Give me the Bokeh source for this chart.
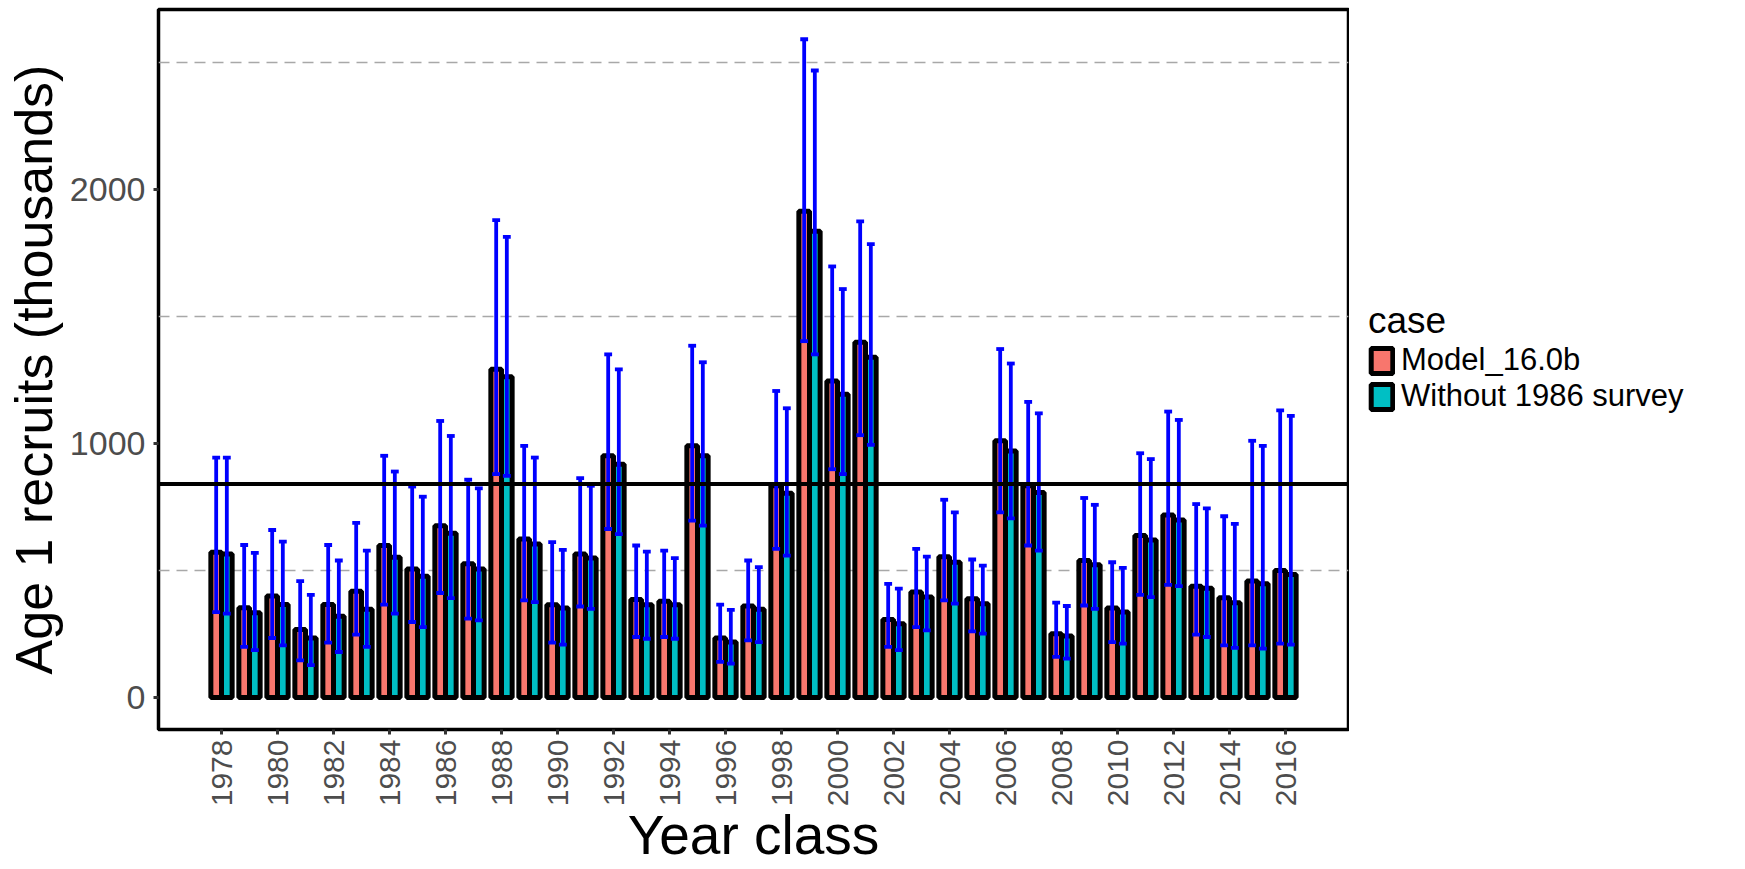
import math
from bokeh.plotting import figure
from bokeh.layouts import row
from bokeh.models import ColumnDataSource, Range1d, FixedTicker, Span, Legend, LegendItem
from bokeh.transform import dodge
from bokeh.embed import file_html
from bokeh.resources import INLINE

# ---------------- data ----------------
years = list(range(1978, 2017))

model_val = [571, 353, 399, 267, 366, 418, 598, 506, 676, 526,
             1291, 624, 365, 565, 951, 386, 379, 990, 234, 360,
             833, 1913, 1245, 1398, 307, 415, 554, 388, 1010, 833,
             251, 539, 352, 637, 718, 438, 392, 458, 500]
model_lo = [336, 199, 234, 146, 216, 247, 365, 297, 411, 310,
            879, 382, 216, 358, 663, 238, 238, 696, 140, 225,
            585, 1402, 898, 1032, 199, 277, 382, 260, 728, 598,
            160, 362, 218, 404, 443, 247, 205, 205, 212]
model_hi = [944, 600, 659, 458, 600, 687, 951, 830, 1088, 857,
            1878, 990, 611, 863, 1350, 598, 578, 1384, 365, 539,
            1206, 2590, 1696, 1873, 447, 585, 778, 543, 1371, 1163,
            373, 785, 532, 961, 1125, 761, 713, 1010, 1130]

nosurv_val = [565, 333, 366, 234, 320, 347, 552, 477, 646, 506,
              1262, 604, 352, 549, 918, 365, 365, 951, 218, 347,
              804, 1834, 1193, 1339, 290, 395, 532, 369, 970, 807,
              242, 522, 336, 620, 698, 430, 373, 447, 484]
nosurv_lo = [330, 186, 205, 127, 179, 199, 330, 277, 391, 303,
             872, 375, 208, 349, 643, 231, 231, 676, 133, 218,
             558, 1350, 879, 994, 186, 264, 369, 251, 705, 578,
             153, 349, 212, 395, 438, 238, 195, 192, 208]
nosurv_hi = [944, 569, 613, 404, 539, 578, 889, 790, 1029, 823,
             1812, 944, 581, 833, 1291, 574, 548, 1319, 345, 513,
             1138, 2467, 1607, 1784, 428, 554, 728, 519, 1314, 1118,
             360, 758, 510, 938, 1092, 744, 683, 990, 1108]

x_ticks = [1978, 1980, 1982, 1984, 1986, 1988, 1990, 1992, 1994, 1996,
           1998, 2000, 2002, 2004, 2006, 2008, 2010, 2012, 2014, 2016]
y_ticks = [0, 1000, 2000]
grid_levels = [500, 1500, 2500]
reference_level = 840

case_labels = ["Model_16.0b", "Without 1986 survey"]
case_colors = ["#F8766D", "#00BFC4"]

# ---------------- main figure ----------------
src = ColumnDataSource(dict(year=years,
                            mv=model_val, ml=model_lo, mh=model_hi,
                            tv=nosurv_val, tl=nosurv_lo, th=nosurv_hi))

FONT = "Liberation Sans"

p = figure(width=1349, height=869,
           x_range=Range1d(1975.75, 2018.25), y_range=Range1d(-126, 2707),
           output_backend="svg", toolbar_location=None,
           min_border_left=158, min_border_right=1,
           min_border_top=9, min_border_bottom=138,
           background_fill_color="white", border_fill_color="white")

off = 0.19
bw = 0.38
cap = 0.14
bar_line = 5

p.vbar(x=dodge("year", -off, range=p.x_range), top="mv", bottom=0, width=bw,
       fill_color=case_colors[0], line_color="black", line_width=bar_line, source=src)
p.vbar(x=dodge("year", off, range=p.x_range), top="tv", bottom=0, width=bw,
       fill_color=case_colors[1], line_color="black", line_width=bar_line, source=src)

for o, lo, hi in [(-off, "ml", "mh"), (off, "tl", "th")]:
    p.segment(x0=dodge("year", o, range=p.x_range), x1=dodge("year", o, range=p.x_range),
              y0=lo, y1=hi, line_color="blue", line_width=3.8, source=src)
    for yk in (lo, hi):
        p.segment(x0=dodge("year", o - cap, range=p.x_range), x1=dodge("year", o + cap, range=p.x_range),
                  y0=yk, y1=yk, line_color="blue", line_width=3.8, source=src)

p.add_layout(Span(location=reference_level, dimension="width",
                  line_color="black", line_width=4))

# grid
p.xgrid.visible = False
p.ygrid.ticker = FixedTicker(ticks=grid_levels)
p.ygrid.grid_line_color = "#A8A8A8"
p.ygrid.grid_line_width = 1.6
p.ygrid.grid_line_dash = "11 7"

# frame
p.outline_line_color = "black"
p.outline_line_width = 3.5
p.outline_line_alpha = 1.0

# axes
p.xaxis.ticker = FixedTicker(ticks=x_ticks)
p.yaxis.ticker = FixedTicker(ticks=y_ticks)
p.xaxis.major_label_orientation = math.pi / 2
for ax in (p.xaxis[0], p.yaxis[0]):
    ax.axis_line_color = None
    ax.minor_tick_line_color = None
    ax.major_tick_in = 0
    ax.major_tick_out = 5
    ax.major_tick_line_width = 3
    ax.major_tick_line_color = "#333333"
    ax.major_label_text_font = FONT
    ax.major_label_text_color = "#4D4D4D"
    ax.axis_label_text_font = FONT
    ax.axis_label_text_font_style = "normal"
    ax.axis_label_text_color = "black"

p.xaxis.major_label_text_font_size = "30px"
p.yaxis.major_label_text_font_size = "34px"
p.xaxis.axis_label_text_font_size = "55px"
p.yaxis.axis_label_text_font_size = "52px"
p.xaxis.axis_label = "Year class"
p.yaxis.axis_label = "Age 1 recruits (thousands)"
p.xaxis.major_label_standoff = 5
p.xaxis.axis_label_standoff = -5
p.yaxis.major_label_standoff = 8
p.yaxis.axis_label_standoff = 4

# ---------------- legend panel ----------------
# (the key glyphs reuse the same data; they fall outside this panel's ranges)
lp = figure(width=396, height=869, output_backend="svg", toolbar_location=None,
            x_range=Range1d(0, 1), y_range=Range1d(-1, 0),
            x_axis_location=None, y_axis_location=None,
            min_border_left=0, min_border_right=0, min_border_top=0, min_border_bottom=0,
            background_fill_color="white", border_fill_color="white")
lp.grid.visible = False
lp.outline_line_color = None

key_renderers = [
    lp.vbar(x="year", top=col, bottom=0, width=bw, fill_color=c, line_color="black",
            line_width=bar_line, source=src)
    for col, c in zip(["mv", "tv"], case_colors)
]

legend_style = dict(label_text_font=FONT, label_text_font_size="31px", label_text_color="black",
                    glyph_width=27, glyph_height=31, label_height=31, label_standoff=6,
                    spacing=0, padding=0, margin=0,
                    border_line_color=None, background_fill_alpha=0)

legend_top = Legend(items=[LegendItem(label=case_labels[0], renderers=[key_renderers[0]])],
                    location=(19, 351), title="case",
                    title_text_font=FONT, title_text_font_size="37px", title_text_font_style="normal",
                    title_text_color="black", title_standoff=0, **legend_style)
legend_bottom = Legend(items=[LegendItem(label=case_labels[1], renderers=[key_renderers[1]])],
                       location=(19, 315), **legend_style)
lp.add_layout(legend_top)
lp.add_layout(legend_bottom)

layout = row(p, lp, spacing=0)

open("out.html", "w").write(file_html(layout, INLINE))
